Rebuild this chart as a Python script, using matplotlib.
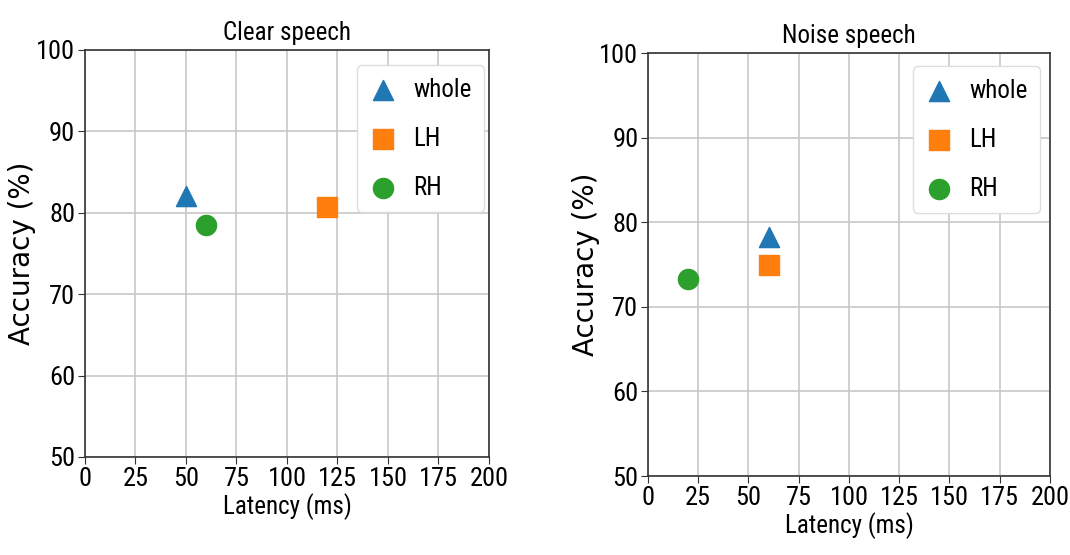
import matplotlib
matplotlib.use("Agg")
import matplotlib.pyplot as plt

# -------------------------------
# DATA
# -------------------------------
titles = ["Clear speech", "Noise speech"]
labels = ["whole", "LH", "RH"]
markers = ["^", "s", "o"]
colors = ["#1f77b4", "#ff7f0e", "#2ca02c"]

clear_latency = [50, 120, 60]
clear_accuracy = [82.0, 80.7, 78.5]

noise_latency = [60, 60, 20]
noise_accuracy = [78.3, 74.9, 73.3]

x_ticks = [0, 25, 50, 75, 100, 125, 150, 175, 200]
y_ticks = [50, 60, 70, 80, 90, 100]

narrow = ["Liberation Sans Narrow", "Roboto Condensed", "Open Sans Condensed",
          "Noto Sans", "DejaVu Sans"]

# -------------------------------
# FIGURE
# -------------------------------
fig = plt.figure(figsize=(10.7, 5.55), dpi=100)
ax1 = fig.add_axes([0.0794, 0.1766, 0.3776, 0.7334])
ax2 = fig.add_axes([0.6056, 0.1423, 0.3757, 0.7622])

panels = [(ax1, clear_latency, clear_accuracy, (0.988, 0.963)),
          (ax2, noise_latency, noise_accuracy, (0.975, 0.969))]

for i, (ax, xs, ys, anchor) in enumerate(panels):
    for j in range(len(labels)):
        ax.scatter([xs[j]], [ys[j]], marker=markers[j], color=colors[j],
                   s=210, label=labels[j], zorder=3)
    ax.set_xlim(0, 200)
    ax.set_ylim(50, 100)
    ax.set_xticks(x_ticks)
    ax.set_yticks(y_ticks)
    ax.grid(True, color="#c8c8c8", linewidth=1.2)
    ax.set_axisbelow(True)
    for sp in ax.spines.values():
        sp.set_color("#333333")
        sp.set_linewidth(1.2)
    ax.tick_params(labelsize=19, length=5, color="#333333", pad=2)
    for t in ax.get_xticklabels() + ax.get_yticklabels():
        t.set_family(narrow)
        t.set_stretch("condensed")
    ax.set_title(titles[i], fontsize=18, family=narrow, stretch="condensed", pad=7)
    ax.set_xlabel("Latency (ms)", fontsize=18, family=narrow, stretch="condensed",
                  labelpad=2)
    ax.set_ylabel("Accuracy (%)", fontsize=20)
    ax.yaxis.set_label_coords(-0.12, 0.5)
    leg = ax.legend(loc="upper right", labelspacing=1.0, handletextpad=0.65,
                    handlelength=1.1, borderpad=0.5, borderaxespad=0.0,
                    scatterpoints=1, framealpha=1.0, edgecolor="#dddddd",
                    bbox_to_anchor=anchor,
                    prop={"family": narrow, "size": 18, "stretch": "condensed"})

plt.savefig("out.png", dpi=100)
